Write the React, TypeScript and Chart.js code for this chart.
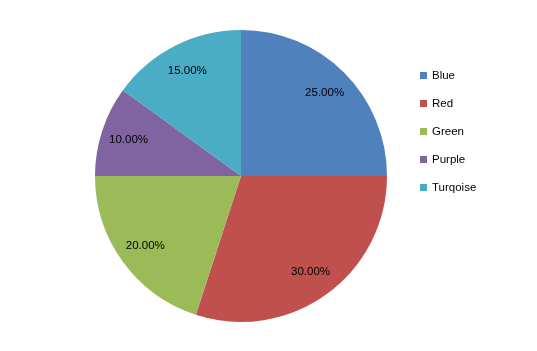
import React, { useEffect, useRef } from "react";
import { Chart, registerables } from "chart.js";

Chart.register(...registerables);

const categories = ["Blue", "Red", "Green", "Purple", "Turqoise"];
const shares = [25, 30, 20, 10, 15];
const colors = ["#4F81BD", "#C0504D", "#9BBB59", "#8064A2", "#4BACC6"];

const FONT = '11.5px "Liberation Sans", Arial, sans-serif';

const sliceLabels = {
  id: "sliceLabels",
  afterDatasetsDraw(chart: any) {
    const ctx = chart.ctx;
    const meta = chart.getDatasetMeta(0);
    ctx.save();
    ctx.font = FONT;
    ctx.fillStyle = "#000";
    ctx.textAlign = "center";
    ctx.textBaseline = "middle";
    meta.data.forEach((arc: any, i: number) => {
      const { x, y, startAngle, endAngle, outerRadius } = arc.getProps(
        ["x", "y", "startAngle", "endAngle", "outerRadius"],
        true
      );
      const mid = (startAngle + endAngle) / 2;
      const r = outerRadius * 0.81;
      const v = chart.data.datasets[0].data[i];
      ctx.fillText(v.toFixed(2) + "%", x + Math.cos(mid) * r, y + Math.sin(mid) * r);
    });
    ctx.restore();
  },
};

const sideLegend = {
  id: "sideLegend",
  afterDraw(chart: any) {
    const ctx = chart.ctx;
    const labels = chart.data.labels;
    const bg = chart.data.datasets[0].backgroundColor;
    ctx.save();
    ctx.font = FONT;
    ctx.textAlign = "left";
    ctx.textBaseline = "middle";
    labels.forEach((lab: string, i: number) => {
      const cy = 75.5 + i * 28;
      ctx.fillStyle = bg[i];
      ctx.fillRect(420, cy - 3.5, 7, 7);
      ctx.fillStyle = "#000";
      ctx.fillText(lab, 432, cy + 0.5);
    });
    ctx.restore();
  },
};

export default function App() {
  const ref = useRef<HTMLCanvasElement>(null);
  useEffect(() => {
    if (!ref.current) return;
    const chart = new Chart(ref.current, {
      type: "pie",
      data: {
        labels: categories,
        datasets: [
          {
            data: shares,
            backgroundColor: colors,
            borderWidth: 0,
          },
        ],
      },
      options: {
        responsive: false,
        animation: false,
        layout: { padding: { left: 95, right: 150, top: 30, bottom: 29 } },
        plugins: {
          legend: { display: false },
          tooltip: { enabled: false },
        },
      },
      plugins: [sliceLabels, sideLegend],
    });
    return () => chart.destroy();
  }, []);
  return (
    <div style={{ position: "absolute", left: 0, top: 0, width: 537, height: 351, background: "#fff" }}>
      <canvas ref={ref} width={537} height={351} />
    </div>
  );
}
